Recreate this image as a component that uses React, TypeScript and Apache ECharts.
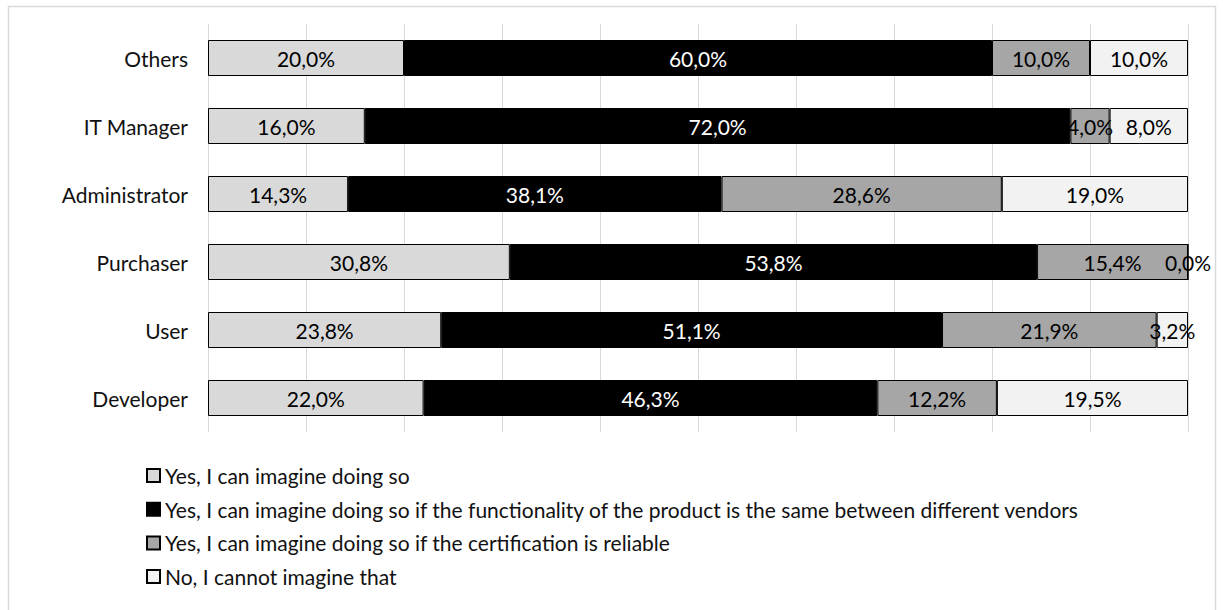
import React, { useEffect, useRef } from "react";
import * as echarts from "echarts";

const categories = ["Others", "IT Manager", "Administrator", "Purchaser", "User", "Developer"];
const seriesNames = [
  "Yes, I can imagine doing so",
  "Yes, I can imagine doing so if the functionality of the product is the same between different vendors",
  "Yes, I can imagine doing so if the certification is reliable",
  "No, I cannot imagine that",
];
const yesPlain = [20.0, 16.0, 14.3, 30.8, 23.8, 22.0];
const yesFunctionality = [60.0, 72.0, 38.1, 53.8, 51.1, 46.3];
const yesCertification = [10.0, 4.0, 28.6, 15.4, 21.9, 12.2];
const noImagine = [10.0, 8.0, 19.0, 0.0, 3.2, 19.5];
const xTicks = [0, 10, 20, 30, 40, 50, 60, 70, 80, 90, 100];

const seriesValues = [yesPlain, yesFunctionality, yesCertification, noImagine];
const colors = ["#d9d9d9", "#000000", "#a6a6a6", "#f2f2f2"];
const labelColors = ["#000000", "#ffffff", "#000000", "#000000"];

const FONT = "Lato";
const FS = 21;

export default function App() {
  const ref = useRef<HTMLDivElement>(null);
  useEffect(() => {
    if (!ref.current) return;
    const chart = echarts.init(ref.current, undefined, { renderer: "svg" });
    chart.setOption({
      animation: false,
      backgroundColor: "#ffffff",
      textStyle: { fontFamily: FONT },
      graphic: [
        {
          type: "rect",
          shape: { x: 8.5, y: 6.5, width: 1207, height: 620 },
          style: { fill: "none", stroke: "#d9d9d9", lineWidth: 1.5 },
          silent: true,
        },
      ],
      grid: { left: 208, right: 35, top: 24, bottom: 178, containLabel: false },
      xAxis: {
        type: "value",
        min: xTicks[0],
        max: xTicks[xTicks.length - 1],
        interval: 10,
        axisLabel: { show: false },
        axisLine: { show: false },
        axisTick: { show: false },
        splitLine: { show: true, lineStyle: { color: "#d9d9d9", width: 1 } },
      },
      yAxis: {
        type: "category",
        data: categories,
        inverse: true,
        axisLine: { show: false },
        axisTick: { show: false },
        axisLabel: { margin: 20, color: "#111111", fontSize: FS, fontFamily: FONT },
      },
      legend: {
        orient: "vertical",
        left: 146,
        top: 465,
        padding: 0,
        itemWidth: 13,
        itemHeight: 13,
        itemGap: 12.7,
        icon: "rect",
        textStyle: { fontSize: FS, fontFamily: FONT, color: "#111111", lineHeight: 21, height: 21 },
        data: seriesNames,
      },
      series: seriesNames.map((name, i) => ({
        name,
        type: "bar",
        stack: "total",
        barWidth: 36,
        data: seriesValues[i],
        itemStyle: { color: colors[i], borderColor: "#000000", borderWidth: 1 },
        label: {
          show: true,
          position: "inside",
          color: labelColors[i],
          fontSize: FS,
          fontFamily: FONT,
          formatter: (p: any) => p.value.toFixed(1).replace(".", ",") + "%",
        },
      })),
    });
    return () => chart.dispose();
  }, []);
  return (
    <div
      ref={ref}
      style={{ position: "absolute", left: 0, top: 0, width: 1223, height: 610 }}
    />
  );
}
